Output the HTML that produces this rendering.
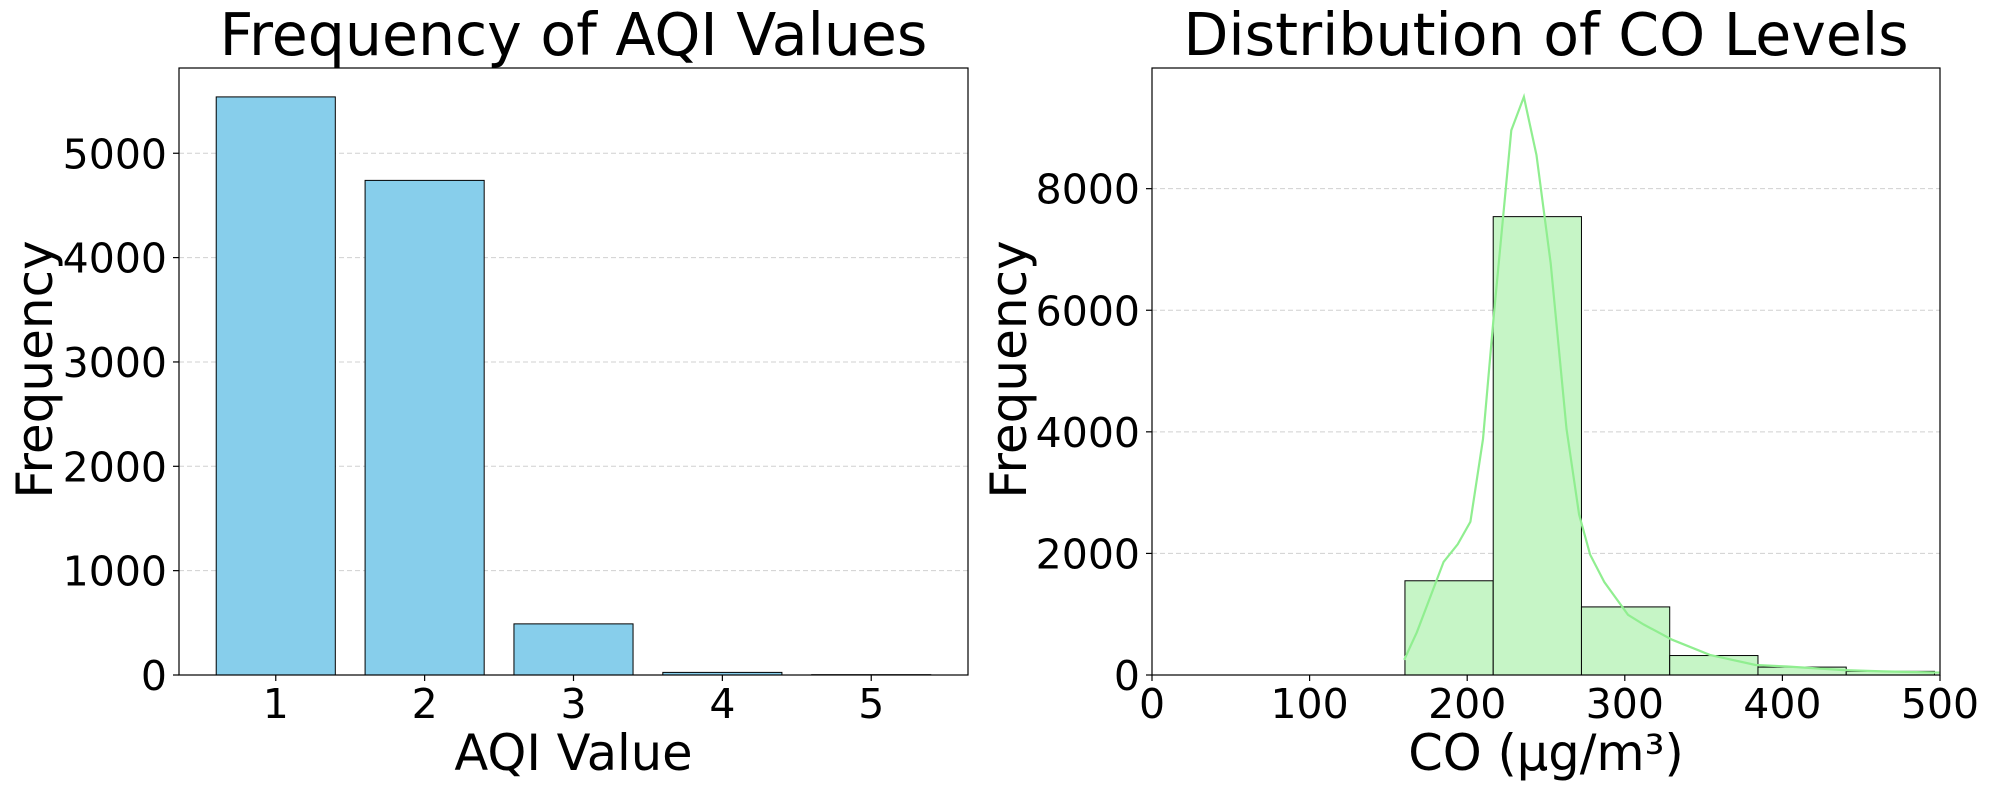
<!DOCTYPE html>
<html><head><meta charset="utf-8"><style>
html,body{margin:0;padding:0;background:#fff;}
svg{display:block;font-family:"DejaVu Sans","Liberation Sans",sans-serif;}
</style></head><body>
<svg id="c" width="1990" height="790" xmlns="http://www.w3.org/2000/svg"></svg>
<script>
const aqiCategories = [1,2,3,4,5];
const aqiCounts = [5540,4740,490,25,3];
const aqiYTicks = [0,1000,2000,3000,4000,5000];
const coBinEdges = [160.5,216.5,272.5,328.5,384.5,440.5,496.5];
const coCounts = [1550,7540,1120,320,130,60];
const coKdeX = [160,168,185,194,202,210,217,228,236,244,253,263,271,278,287,302,312,330,354,383,403,439,464,500];
const coKdeY = [250,700,1860,2150,2520,3880,5950,8960,9510,8550,6770,4050,2640,1980,1530,990,830,580,330,165,140,80,60,40];
const coXTicks = [0,100,200,300,400,500];
const coYTicks = [0,2000,4000,6000,8000];

const NS="http://www.w3.org/2000/svg";
const svg=document.getElementById('c');
function mk(tag,attrs,parent){const e=document.createElementNS(NS,tag);for(const k in attrs)e.setAttribute(k,attrs[k]);(parent||svg).appendChild(e);return e;}
const TOP=68,BOT=675;

// ---------- Left chart ----------
const L={x0:179,x1:968,xmin:0.35,xmax:5.65,ymax:5817};
const lx=v=>L.x0+(v-L.xmin)/(L.xmax-L.xmin)*(L.x1-L.x0);
const ly=v=>BOT-v/L.ymax*(BOT-TOP);
const gL=mk('g',{});


aqiYTicks.forEach(t=>{
  if(t>0){const g=mk('line',{x1:L.x0,x2:L.x1,y1:ly(t),y2:ly(t),stroke:'#d0d0d0','stroke-width':1,'stroke-dasharray':'5,3'},gL);
  
  }
  mk('line',{x1:L.x0-6,x2:L.x0,y1:ly(t),y2:ly(t),stroke:'#000','stroke-width':1.2},gL);
  const tx=mk('text',{x:L.x0-12,y:ly(t)+15,'text-anchor':'end','font-size':41},gL);
  tx.textContent=t;
  
  
});
aqiCategories.forEach((c,i)=>{
  const r=mk('rect',{x:lx(c-0.4),y:ly(aqiCounts[i]),width:lx(c+0.4)-lx(c-0.4),height:BOT-ly(aqiCounts[i]),fill:'#87ceeb',stroke:'#000','stroke-width':1},gL);
  
  
  mk('line',{x1:lx(c),x2:lx(c),y1:BOT,y2:BOT+6,stroke:'#000','stroke-width':1.2},gL);
  const tx=mk('text',{x:lx(c),y:BOT+43,'text-anchor':'middle','font-size':41},gL);
  tx.textContent=c;
  
  
});
mk('rect',{x:L.x0,y:TOP,width:L.x1-L.x0,height:BOT-TOP,fill:'none',stroke:'#000','stroke-width':1.2},gL);
let t=mk('text',{x:(L.x0+L.x1)/2,y:55,'text-anchor':'middle','font-size':58.5},gL);t.textContent='Frequency of AQI Values';


t=mk('text',{x:(L.x0+L.x1)/2,y:770,'text-anchor':'middle','font-size':49.5},gL);t.textContent='AQI Value';


t=mk('text',{x:0,y:0,'text-anchor':'middle','font-size':50,transform:'translate(52,'+((TOP+BOT)/2-2)+') rotate(-90)'},gL);t.textContent='Frequency';



// ---------- Right chart ----------
const R={x0:1152,x1:1940,xmin:0,xmax:500,ymax:9985};
const rx=v=>R.x0+(v-R.xmin)/(R.xmax-R.xmin)*(R.x1-R.x0);
const ry=v=>BOT-v/R.ymax*(BOT-TOP);
const gR=mk('g',{});


coYTicks.forEach(v=>{
  if(v>0){const g=mk('line',{x1:R.x0,x2:R.x1,y1:ry(v),y2:ry(v),stroke:'#d0d0d0','stroke-width':1,'stroke-dasharray':'5,3'},gR);
  
  }
  mk('line',{x1:R.x0-6,x2:R.x0,y1:ry(v),y2:ry(v),stroke:'#000','stroke-width':1.2},gR);
  const tx=mk('text',{x:R.x0-12,y:ry(v)+15,'text-anchor':'end','font-size':41},gR);
  tx.textContent=v;
  
  
});
coCounts.forEach((c,i)=>{
  const r=mk('rect',{x:rx(coBinEdges[i]),y:ry(c),width:rx(coBinEdges[i+1])-rx(coBinEdges[i]),height:BOT-ry(c),fill:'#c6f5c6',stroke:'#000','stroke-width':1},gR);
  
  
});
const pts=coKdeX.map((x,i)=>rx(x).toFixed(1)+','+ry(coKdeY[i]).toFixed(1)).join(' ');
const kde=mk('polyline',{points:pts,fill:'none',stroke:'#90ee90','stroke-width':2.2},gR);


coXTicks.forEach(v=>{
  mk('line',{x1:rx(v),x2:rx(v),y1:BOT,y2:BOT+6,stroke:'#000','stroke-width':1.2},gR);
  const tx=mk('text',{x:rx(v),y:BOT+43,'text-anchor':'middle','font-size':41},gR);
  tx.textContent=v;
  
  
});
mk('rect',{x:R.x0,y:TOP,width:R.x1-R.x0,height:BOT-TOP,fill:'none',stroke:'#000','stroke-width':1.2},gR);
t=mk('text',{x:(R.x0+R.x1)/2,y:55,'text-anchor':'middle','font-size':58.5},gR);t.textContent='Distribution of CO Levels';


t=mk('text',{x:(R.x0+R.x1)/2,y:770,'text-anchor':'middle','font-size':49.5},gR);t.textContent='CO (µg/m³)';


t=mk('text',{x:0,y:0,'text-anchor':'middle','font-size':50,transform:'translate(1026,'+((TOP+BOT)/2-2)+') rotate(-90)'},gR);t.textContent='Frequency';


</script>
</body></html>
